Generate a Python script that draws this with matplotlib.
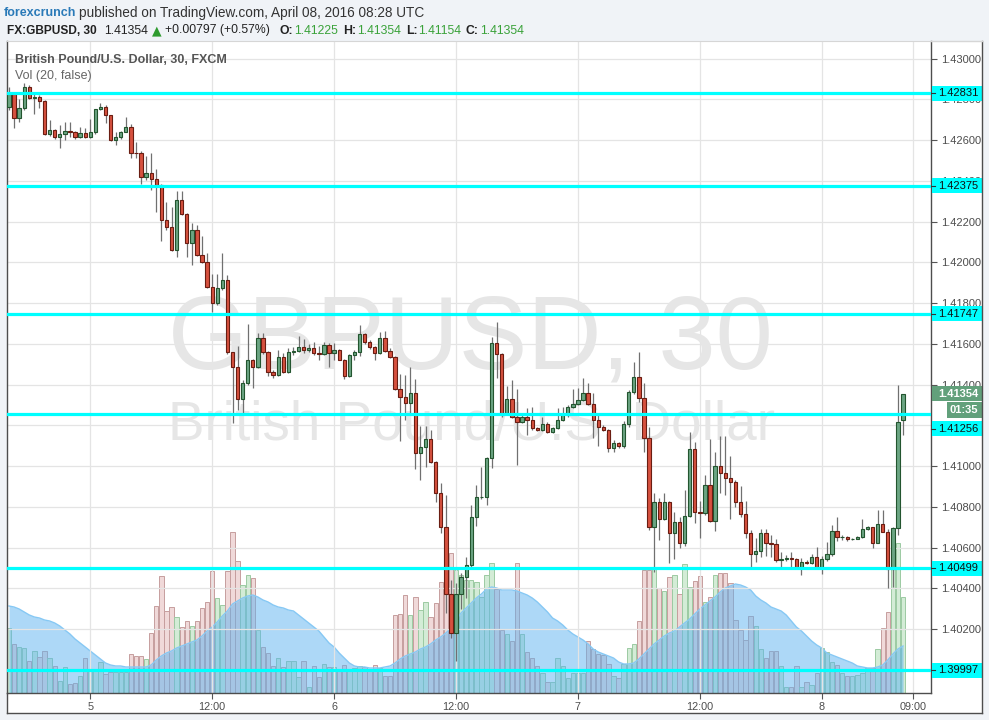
import matplotlib
matplotlib.use("Agg")
import matplotlib.pyplot as plt
from matplotlib.patches import Rectangle
from matplotlib.lines import Line2D
import numpy as np

# ---------------- data ----------------
opens = [1.42764, 1.42825, 1.42710, 1.42760, 1.42862, 1.42808, 1.42812, 1.42791, 1.42628, 1.42652,
         1.42613, 1.42628, 1.42646, 1.42641, 1.42613, 1.42636, 1.42616, 1.42638, 1.42751, 1.42764,
         1.42723, 1.42600, 1.42613, 1.42641, 1.42665, 1.42539, 1.42536, 1.42417, 1.42441, 1.42408,
         1.42382, 1.42210, 1.42175, 1.42060, 1.42306, 1.42235, 1.42096, 1.42158, 1.42037, 1.42003,
         1.41880, 1.41802, 1.41872, 1.41913, 1.41558, 1.41484, 1.41327, 1.41406, 1.41520, 1.41487,
         1.41627, 1.41558, 1.41463, 1.41447, 1.41537, 1.41463, 1.41558, 1.41566, 1.41583, 1.41570,
         1.41578, 1.41553, 1.41550, 1.41594, 1.41553, 1.41570, 1.41523, 1.41440, 1.41545, 1.41561,
         1.41646, 1.41610, 1.41582, 1.41553, 1.41627, 1.41566, 1.41537, 1.41376, 1.41340, 1.41308,
         1.41360, 1.41062, 1.41095, 1.41131, 1.41021, 1.40866, 1.40702, 1.40370, 1.40182, 1.40372,
         1.40457, 1.40514, 1.40748, 1.40846, 1.40850, 1.41038, 1.41602, 1.41550, 1.41262, 1.41327,
         1.41242, 1.41218, 1.41242, 1.41226, 1.41185, 1.41177, 1.41204, 1.41165, 1.41185, 1.41226,
         1.41250, 1.41288, 1.41303, 1.41324, 1.41357, 1.41303, 1.41226, 1.41193, 1.41177, 1.41087,
         1.41111, 1.41098, 1.41205, 1.41362, 1.41435, 1.41332, 1.41136, 1.40702, 1.40825, 1.40738,
         1.40822, 1.40670, 1.40727, 1.40620, 1.40756, 1.41083, 1.40776, 1.40768, 1.40907, 1.40732,
         1.41000, 1.40967, 1.40940, 1.40923, 1.40822, 1.40763, 1.40670, 1.40566, 1.40583, 1.40669,
         1.40621, 1.40616, 1.40539, 1.40542, 1.40547, 1.40545, 1.40503, 1.40531, 1.40526, 1.40555,
         1.40506, 1.40542, 1.40566, 1.40683, 1.40650, 1.40652, 1.40640, 1.40642, 1.40650, 1.40689,
         1.40699, 1.40624, 1.40714, 1.40678, 1.40495, 1.40694, 1.41225]
highs = [1.42862, 1.42828, 1.42804, 1.42880, 1.42870, 1.42830, 1.42820, 1.42795, 1.42698, 1.42655,
         1.42673, 1.42690, 1.42690, 1.42646, 1.42665, 1.42657, 1.42706, 1.42755, 1.42780, 1.42770,
         1.42725, 1.42640, 1.42645, 1.42713, 1.42680, 1.42590, 1.42545, 1.42520, 1.42535, 1.42460,
         1.42385, 1.42297, 1.42273, 1.42350, 1.42350, 1.42240, 1.42191, 1.42185, 1.42130, 1.42044,
         1.41942, 1.41942, 1.42044, 1.41937, 1.41560, 1.41589, 1.41420, 1.41697, 1.41525, 1.41651,
         1.41651, 1.41565, 1.41470, 1.41570, 1.41555, 1.41580, 1.41585, 1.41640, 1.41625, 1.41600,
         1.41610, 1.41590, 1.41610, 1.41605, 1.41605, 1.41575, 1.41527, 1.41550, 1.41570, 1.41692,
         1.41651, 1.41618, 1.41590, 1.41660, 1.41665, 1.41578, 1.41540, 1.41452, 1.41447, 1.41488,
         1.41427, 1.41196, 1.41196, 1.41177, 1.41025, 1.40915, 1.40860, 1.40440, 1.40424, 1.40475,
         1.40555, 1.40809, 1.40907, 1.40997, 1.41045, 1.41635, 1.41708, 1.41555, 1.41393, 1.41422,
         1.41376, 1.41258, 1.41283, 1.41288, 1.41190, 1.41242, 1.41218, 1.41193, 1.41283, 1.41288,
         1.41300, 1.41376, 1.41381, 1.41430, 1.41406, 1.41357, 1.41250, 1.41200, 1.41180, 1.41130,
         1.41120, 1.41220, 1.41373, 1.41512, 1.41561, 1.41406, 1.41193, 1.40866, 1.40841, 1.40870,
         1.40830, 1.40776, 1.40750, 1.40882, 1.41168, 1.41120, 1.40830, 1.40956, 1.41135, 1.41070,
         1.41150, 1.41150, 1.41050, 1.40930, 1.40900, 1.40830, 1.40685, 1.40645, 1.40690, 1.40690,
         1.40660, 1.40640, 1.40580, 1.40565, 1.40580, 1.40550, 1.40547, 1.40540, 1.40570, 1.40605,
         1.40560, 1.40627, 1.40710, 1.40751, 1.40660, 1.40655, 1.40645, 1.40655, 1.40738, 1.40705,
         1.40703, 1.40783, 1.40783, 1.40690, 1.40700, 1.41398, 1.41354]
lows = [1.42747, 1.42660, 1.42690, 1.42750, 1.42800, 1.42730, 1.42758, 1.42625, 1.42620, 1.42605,
        1.42560, 1.42600, 1.42617, 1.42605, 1.42608, 1.42611, 1.42610, 1.42630, 1.42747, 1.42686,
        1.42595, 1.42575, 1.42604, 1.42640, 1.42510, 1.42510, 1.42387, 1.42404, 1.42354, 1.42248,
        1.42106, 1.42158, 1.42055, 1.42027, 1.42230, 1.42027, 1.41987, 1.42030, 1.41998, 1.41875,
        1.41757, 1.41790, 1.41865, 1.41550, 1.41209, 1.41275, 1.41258, 1.41400, 1.41381, 1.41480,
        1.41550, 1.41440, 1.41430, 1.41440, 1.41455, 1.41455, 1.41545, 1.41560, 1.41555, 1.41560,
        1.41545, 1.41520, 1.41545, 1.41488, 1.41520, 1.41520, 1.41427, 1.41435, 1.41520, 1.41540,
        1.41600, 1.41577, 1.41520, 1.41550, 1.41560, 1.41532, 1.41373, 1.41124, 1.41226, 1.41250,
        1.40988, 1.40931, 1.40997, 1.41015, 1.40825, 1.40670, 1.40280, 1.40154, 1.40045, 1.40300,
        1.40351, 1.40500, 1.40705, 1.40840, 1.40809, 1.40990, 1.41430, 1.41242, 1.41255, 1.41235,
        1.41005, 1.41213, 1.41152, 1.41177, 1.41170, 1.41170, 1.41160, 1.41160, 1.41180, 1.41220,
        1.41242, 1.41283, 1.41300, 1.41320, 1.41298, 1.41136, 1.41100, 1.41170, 1.41070, 1.41070,
        1.41090, 1.41090, 1.41190, 1.41355, 1.41316, 1.41070, 1.40686, 1.40481, 1.40637, 1.40735,
        1.40526, 1.40545, 1.40596, 1.40610, 1.40750, 1.40720, 1.40645, 1.40760, 1.40725, 1.40680,
        1.40866, 1.40860, 1.40738, 1.40800, 1.40750, 1.40645, 1.40506, 1.40530, 1.40555, 1.40560,
        1.40555, 1.40530, 1.40505, 1.40535, 1.40505, 1.40500, 1.40465, 1.40520, 1.40520, 1.40500,
        1.40470, 1.40535, 1.40560, 1.40632, 1.40637, 1.40630, 1.40638, 1.40640, 1.40645, 1.40685,
        1.40596, 1.40620, 1.40675, 1.40401, 1.40405, 1.40661, 1.41154]
closes = [1.42825, 1.42710, 1.42760, 1.42862, 1.42808, 1.42812, 1.42791, 1.42628, 1.42652, 1.42613,
          1.42628, 1.42646, 1.42641, 1.42613, 1.42636, 1.42616, 1.42638, 1.42751, 1.42764, 1.42723,
          1.42600, 1.42613, 1.42641, 1.42665, 1.42539, 1.42536, 1.42417, 1.42441, 1.42408, 1.42382,
          1.42210, 1.42175, 1.42060, 1.42306, 1.42235, 1.42096, 1.42158, 1.42037, 1.42003, 1.41880,
          1.41802, 1.41872, 1.41913, 1.41558, 1.41484, 1.41327, 1.41406, 1.41520, 1.41487, 1.41627,
          1.41558, 1.41463, 1.41447, 1.41537, 1.41463, 1.41558, 1.41566, 1.41583, 1.41570, 1.41578,
          1.41553, 1.41550, 1.41594, 1.41553, 1.41570, 1.41523, 1.41440, 1.41545, 1.41561, 1.41646,
          1.41610, 1.41582, 1.41553, 1.41627, 1.41566, 1.41537, 1.41376, 1.41340, 1.41308, 1.41360,
          1.41062, 1.41095, 1.41131, 1.41021, 1.40866, 1.40702, 1.40370, 1.40182, 1.40372, 1.40457,
          1.40514, 1.40748, 1.40846, 1.40850, 1.41038, 1.41602, 1.41550, 1.41262, 1.41327, 1.41242,
          1.41218, 1.41242, 1.41226, 1.41185, 1.41177, 1.41204, 1.41165, 1.41185, 1.41226, 1.41250,
          1.41288, 1.41303, 1.41324, 1.41357, 1.41303, 1.41226, 1.41193, 1.41177, 1.41087, 1.41111,
          1.41098, 1.41205, 1.41362, 1.41435, 1.41332, 1.41136, 1.40702, 1.40825, 1.40738, 1.40822,
          1.40670, 1.40727, 1.40620, 1.40756, 1.41083, 1.40776, 1.40768, 1.40907, 1.40732, 1.41000,
          1.40967, 1.40940, 1.40923, 1.40822, 1.40763, 1.40670, 1.40566, 1.40583, 1.40669, 1.40621,
          1.40616, 1.40539, 1.40542, 1.40547, 1.40545, 1.40503, 1.40531, 1.40526, 1.40555, 1.40506,
          1.40542, 1.40566, 1.40683, 1.40650, 1.40652, 1.40640, 1.40642, 1.40650, 1.40689, 1.40699,
          1.40624, 1.40714, 1.40678, 1.40495, 1.40694, 1.41218, 1.41354]
volumes = [65, 49, 46, 45, 32, 42, 36, 42, 35, 27, 12, 26, 9, 10, 17, 35, 24, 24, 31, 19,
           21, 21, 21, 21, 39, 37, 37, 34, 60, 87, 117, 82, 86, 76, 66, 72, 67, 72, 85, 91,
           122, 95, 88, 122, 161, 132, 108, 118, 115, 63, 46, 40, 27, 35, 26, 32, 32, 16, 32, 6,
           27, 16, 29, 26, 26, 22, 28, 23, 25, 27, 26, 24, 28, 25, 17, 17, 78, 79, 98, 78,
           96, 83, 91, 76, 90, 111, 111, 140, 123, 118, 113, 113, 111, 96, 118, 130, 104, 63, 59, 52,
           130, 59, 41, 35, 27, 20, 11, 11, 35, 27, 15, 20, 20, 20, 52, 44, 39, 38, 29, 17,
           15, 29, 45, 49, 72, 123, 123, 125, 105, 102, 116, 118, 99, 129, 106, 112, 117, 91, 96, 118,
           120, 120, 110, 73, 63, 53, 77, 67, 44, 35, 42, 42, 27, 6, 6, 27, 6, 11, 8, 20,
           45, 41, 31, 28, 20, 17, 17, 18, 20, 25, 25, 44, 65, 81, 150, 150, 96]
vol_ma = [87, 86, 84, 81, 78, 76, 75, 73, 72, 70, 67, 63, 59, 54, 50, 46, 42, 38, 34, 30,
          28, 27, 27, 26, 26, 26, 26, 26, 28, 33, 37, 40, 42, 45, 47, 49, 51, 53, 57, 62,
          66, 71, 77, 82, 89, 92, 95, 97, 98, 96, 93, 91, 88, 86, 85, 83, 82, 78, 74, 70,
          66, 62, 56, 50, 46, 40, 35, 30, 27, 26, 26, 25, 25, 25, 26, 27, 30, 34, 37, 39,
          41, 44, 46, 49, 53, 56, 60, 65, 73, 80, 85, 90, 95, 99, 104, 106, 105, 103, 103, 103,
          102, 100, 98, 95, 91, 86, 81, 75, 72, 68, 63, 59, 56, 53, 49, 44, 41, 39, 37, 35,
          31, 29, 29, 30, 34, 39, 44, 49, 53, 57, 60, 62, 66, 70, 74, 79, 84, 88, 92, 96,
          101, 105, 107, 109, 108, 106, 103, 97, 93, 90, 86, 84, 82, 78, 72, 66, 62, 57, 52, 48,
          45, 40, 38, 36, 34, 32, 30, 27, 26, 25, 25, 26, 28, 33, 39, 44, 47]
levels = [1.42831, 1.42375, 1.41747, 1.41256, 1.40499, 1.39997]
level_labels = ["1.42831", "1.42375", "1.41747", "1.41256", "1.40499", "1.39997"]
x_tick_labels = ["5", "12:00", "6", "12:00", "7", "12:00", "8", "09:00"]
last_price_label = "1.41354"
countdown_label = "01:35"

# ---------------- layout ----------------
W, H = 989, 720
plt.rcParams["font.family"] = ["Liberation Sans", "DejaVu Sans"]

fig = plt.figure(figsize=(W / 100, H / 100), dpi=100, facecolor="#f0f3f7")


def fx(px):
    return px / W


def fy(py):
    return 1 - py / H


L, R, T, B = 7, 931, 41, 693
rect = [fx(L), fy(B), (R - L) / W, (B - T) / H]
YMIN, YMAX = 1.39886, 1.430865
XMIN, XMAX = -0.39, 181.5
x_tick_pos = [16, 40, 64, 88, 112, 136, 160, 178]

fig.patches.append(Rectangle((fx(7), fy(713)), (982 - 7) / W, (713 - 41) / H,
                             transform=fig.transFigure, facecolor="white",
                             edgecolor="none", zorder=-10))

ax = fig.add_axes(rect)
axv = ax.twinx()
ax.set_zorder(axv.get_zorder() + 1)
ax.patch.set_visible(False)
axv.set_facecolor("white")

ax.set_xlim(XMIN, XMAX)
ax.set_ylim(YMIN, YMAX)
axv.set_ylim(0, B - T)

o = np.array(opens); h = np.array(highs); lo = np.array(lows); c = np.array(closes)
x = np.arange(len(o))
up = c >= o

# grid
for p in np.arange(1.400, 1.4301, 0.002):
    ax.axhline(p, color="#e4e4e4", lw=0.9, zorder=0)
for xp in x_tick_pos:
    ax.axvline(xp, color="#e4e4e4", lw=0.9, zorder=0)

# watermark
ax.text(fx(470), fy(369), "GBPUSD, 30", transform=fig.transFigure, ha="center",
        va="baseline", fontsize=74, color="#e6e6e6", zorder=0.5)
ax.text(fx(471), fy(440), "British Pound/U.S. Dollar", transform=fig.transFigure,
        ha="center", va="baseline", fontsize=39.5, color="#e6e6e6", zorder=0.5)

# volume
vcol = np.where(up, "#d3ecd6", "#f0d9d9")
vedge = np.where(up, "#9ccaa2", "#c69e9e")
axv.bar(x, volumes, width=0.86, color=vcol, edgecolor=vedge, linewidth=0.7, zorder=1)
axv.fill_between(x, 0, vol_ma, color="#5cb3f0", alpha=0.5, linewidth=0, zorder=2)
axv.plot(x, vol_ma, color="#86c8f4", lw=1.0, zorder=2)
axv.set_yticks([])
axv.tick_params(right=False, labelright=False)
for s in axv.spines.values():
    s.set_visible(False)

# candles
ax.vlines(x, lo, h, color="#707070", lw=0.9, zorder=2)
bb = np.minimum(o, c)
bh = np.maximum(np.abs(c - o), 0.000015)
ax.bar(x[up], bh[up], bottom=bb[up], width=0.66, color="#6ba583",
       edgecolor="#23552f", linewidth=0.8, zorder=3)
ax.bar(x[~up], bh[~up], bottom=bb[~up], width=0.66, color="#d6513f",
       edgecolor="#6a1d12", linewidth=0.8, zorder=3)

# horizontal levels
for lv in levels:
    ax.axhline(lv, color="#00ffff", lw=2.3, zorder=6)

# axes / ticks (labels fully hidden under level boxes are left out)
ax.yaxis.tick_right()
yt = [1.400 + 0.002 * k for k in range(16)]
ax.set_yticks(yt)
ax.set_yticklabels(["" if abs(v - 1.400) < 1e-9 or abs(v - 1.412) < 1e-9 else "%.5f" % v
                    for v in yt])
ax.tick_params(axis="y", length=4, color="#555555", labelcolor="#4d4d4d",
               labelsize=8, pad=3, width=0.8)
ax.set_xticks(x_tick_pos)
ax.set_xticklabels(x_tick_labels)
ax.tick_params(axis="x", length=4, color="#555555", labelcolor="#4d4d4d",
               labelsize=7.8, pad=2.5, width=0.8)
for side in ["left", "bottom", "right"]:
    ax.spines[side].set_color("#4d4d4d")
    ax.spines[side].set_linewidth(1.0)
ax.spines["top"].set_color("#d6d6d6")


def price_py(p):
    return T + (YMAX - p) / (YMAX - YMIN) * (B - T)


for (x0, y0, x1, y1, col) in [(7, 693, 7, 713, "#4d4d4d"), (7, 713, 982, 713, "#4d4d4d"),
                              (982, 41, 982, 713, "#4d4d4d"), (931, 41, 982, 41, "#d6d6d6")]:
    fig.add_artist(Line2D([fx(x0), fx(x1)], [fy(y0), fy(y1)], color=col, lw=1.0, zorder=8))

label_shift = [0, 0, 0, 15, 0, 0]
for lv, lab, sh in zip(levels, level_labels, label_shift):
    py = price_py(lv) + sh
    fig.patches.append(Rectangle((fx(931.5), fy(py + 7.5)), (982 - 931.5) / W, 15 / H,
                                 transform=fig.transFigure, facecolor="#00ffff",
                                 edgecolor="none", zorder=7))
    fig.add_artist(Line2D([fx(931), fx(935)], [fy(py), fy(py)], color="#333333",
                          lw=0.8, zorder=9))
    fig.text(fx(938), fy(py), lab, ha="left", va="center", fontsize=8,
             color="#111111", zorder=9)

py = price_py(closes[-1])
fig.patches.append(Rectangle((fx(931.5), fy(py + 7.5)), (982 - 931.5) / W, 15 / H,
                             transform=fig.transFigure, facecolor="#62a07b",
                             edgecolor="none", zorder=7))
fig.text(fx(938), fy(py), last_price_label, ha="left", va="center", fontsize=8,
         color="white", fontweight="bold", zorder=9)
fig.patches.append(Rectangle((fx(947), fy(py + 24.5)), (982 - 947) / W, 16 / H,
                             transform=fig.transFigure, facecolor="#62a07b",
                             edgecolor="none", zorder=7))
fig.text(fx(978), fy(py + 16.5), countdown_label, ha="right", va="center", fontsize=8,
         color="white", fontweight="bold", zorder=9)

# header
fig.text(fx(4), fy(12.5), "forexcrunch", ha="left", va="center", fontsize=9,
         color="#2a7ab8", fontweight="bold")
fig.text(fx(79), fy(12.5), "published on TradingView.com, April 08, 2016 08:28 UTC",
         ha="left", va="center", fontsize=9.8, color="#333333")
GREEN = "#3aa23a"
pieces = [(7, "FX:GBPUSD, 30", "#222222", "bold", 8.6),
          (104, "1.41354", "#222222", "normal", 8.8),
          (165, "+0.00797 (+0.57%)", "#222222", "normal", 8.8),
          (279, "O:", "#222222", "bold", 8.8), (294, "1.41225", GREEN, "normal", 8.8),
          (343, "H:", "#222222", "bold", 8.8), (357, "1.41354", GREEN, "normal", 8.8),
          (406, "L:", "#222222", "bold", 8.8), (418, "1.41154", GREEN, "normal", 8.8),
          (466, "C:", "#222222", "bold", 8.8), (480, "1.41354", GREEN, "normal", 8.8)]
for px_, s, col, wt, fs in pieces:
    fig.text(fx(px_), fy(30.5), s, ha="left", va="center", fontsize=fs, color=col,
             fontweight=wt)
fig.text(fx(157), fy(30.5), "\u25B2", ha="center", va="center", fontsize=9,
         color="#2e9b2e", family=["DejaVu Sans"])

fig.text(fx(15), fy(60), "British Pound/U.S. Dollar, 30, FXCM", ha="left", va="center",
         fontsize=9, color="#555555", fontweight="bold")
fig.text(fx(15), fy(76), "Vol (20, false)", ha="left", va="center",
         fontsize=9, color="#666666")

fig.savefig("out.png", dpi=100, facecolor=fig.get_facecolor())
